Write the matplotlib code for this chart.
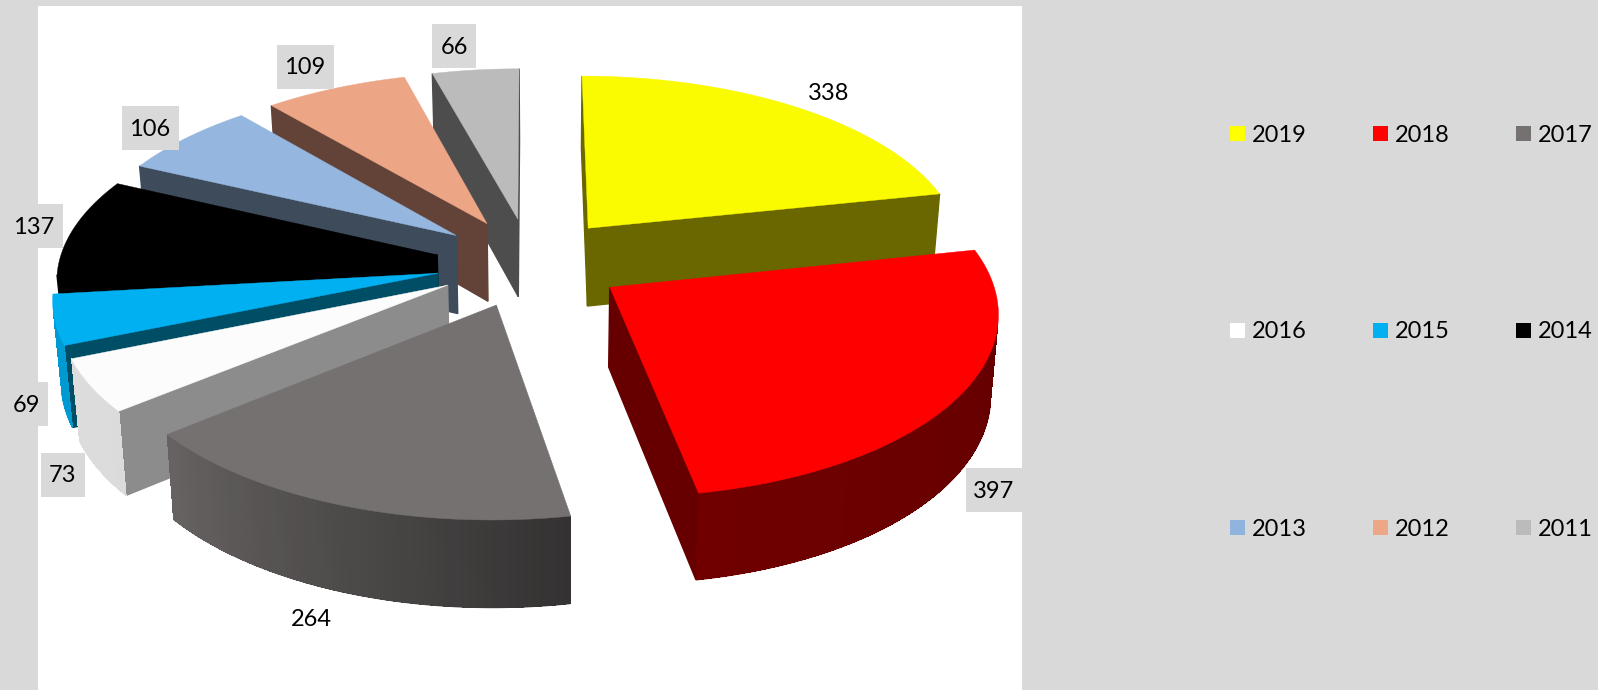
import numpy as np
from matplotlib import pyplot as plt
from matplotlib.patches import Rectangle

years = ['2019', '2018', '2017', '2016', '2015', '2014', '2013', '2012', '2011']
values = [338, 397, 264, 73, 69, 137, 106, 109, 66]

top_colors = ['#FAFA00', '#FF0000', '#767171', '#FCFCFC', '#00B0F0',
              '#000000', '#95B6DF', '#ECA686', '#BBBBBB']
face_colors = ['#6A6600', '#660000', '#3A3838', '#8C8C8C', '#004D66',
               '#000000', '#3D4B5A', '#634338', '#4D4D4D']
legend_colors = ['#FFFF00', '#FF0000', '#767171', '#FFFFFF', '#00B0F0',
                 '#000000', '#8FB4DE', '#EDA686', '#BBBBBB']

# centre of each data label, and whether it sits on a grey box
label_pos = [(829, 93), (994, 490), (311, 618), (63, 475), (26, 404),
             (34, 226), (150, 128), (305, 67), (454, 46)]
label_box = [False, True, False, True, True, True, True, True, True]

draw_order = [8, 7, 6, 5, 4, 3, 0, 1, 2]

BG = '#D9D9D9'
CX, CY = 530, 262
RX, RY = 378, 178
DEPTH = 79
PERSP = 0.12
DEPTH_PERSP = 0.08
SHRINK = 0.017  # the bottom of the pie pulls in towards x=545
EXPLODE = 0.25
FONT = 'Lato'
FONT_SIZE = 17


def project(x, y, z=0.0):
    w = 1 + PERSP*y
    sx = CX + RX*x/w
    sy = CY - RY*y/w + DEPTH*z/(1 + DEPTH_PERSP*y)
    return np.array([sx - SHRINK*z*(sx - 545), sy])


def side_shade(theta):
    # light falls off towards the right of the pie
    return np.interp(theta, [78, 170, 230, 265], [0.38, 0.44, 0.87, 0.88])


def shade_color(color, factor):
    rgb = np.array(plt.matplotlib.colors.to_rgb(color))
    return tuple(rgb*factor)


def draw_quad(ax, p, q, color, smooth=True):
    quad = np.array([project(*p), project(*q), project(*q, 1.0), project(*p, 1.0)])
    x, y = quad.T
    area = np.sum(x*np.roll(y, -1) - np.roll(x, -1)*y)
    # only the walls turned to the camera are drawn
    if area >= 0:
        return
    if smooth:
        ax.fill(x, y, facecolor=color, edgecolor=color, linewidth=1.0)
    else:
        # narrow strips: antialiasing would leave stripes, so only the bottom edge gets it
        ax.fill(x, y, facecolor=color, edgecolor='none', linewidth=0, antialiased=False)
        ax.plot(x[2:], y[2:], color=color, linewidth=0.8, solid_capstyle='butt')


def draw_slice(ax, start, end, top_color, face_color):
    mid = np.radians((start + end)/2)
    ox, oy = EXPLODE*np.sin(mid), EXPLODE*np.cos(mid)

    thetas = np.linspace(start, end, 60)
    rim = [(ox + np.sin(np.radians(t)), oy + np.cos(np.radians(t))) for t in thetas]
    apex = (ox, oy)

    draw_quad(ax, apex, rim[0], face_color)
    draw_quad(ax, rim[-1], apex, face_color)
    for i in range(len(rim) - 1):
        t = (thetas[i] + thetas[i+1])/2
        draw_quad(ax, rim[i], rim[i+1], shade_color(top_color, side_shade(t)), smooth=False)

    outline = np.array([project(*apex)] + [project(*p) for p in rim])
    ax.fill(outline[:, 0], outline[:, 1], facecolor=top_color, edgecolor=top_color, linewidth=0.3)


fig = plt.figure(figsize=(15.98, 6.9), dpi=100, facecolor=BG)
ax = fig.add_axes([0, 0, 1, 1])
ax.set_xlim(0, 1598)
ax.set_ylim(690, 0)
ax.axis('off')

ax.add_patch(Rectangle((38, 6), 984, 684, facecolor='white', edgecolor='none', zorder=0))

edges = 360*np.cumsum([0] + values)/np.sum(values)
for i in draw_order:
    draw_slice(ax, edges[i], edges[i+1], top_colors[i], face_colors[i])

for val, (x, y), boxed in zip(values, label_pos, label_box):
    text = str(val)
    if boxed:
        w = 13*len(text) + 18
        ax.add_patch(Rectangle((x - w/2, y - 22), w, 44, facecolor=BG, edgecolor='none', zorder=5))
    ax.text(x, y + 1, text, ha='center', va='center', fontsize=FONT_SIZE, family=FONT, color='black', zorder=6)

# legend, three columns by three rows
col_x = [1230, 1373, 1516]
row_y = [134, 331, 528]
for i, year in enumerate(years):
    x, y = col_x[i % 3], row_y[i//3]
    ax.add_patch(Rectangle((x, y - 8), 15, 15, facecolor=legend_colors[i], edgecolor='none'))
    ax.text(x + 22, y + 1, year, ha='left', va='center', fontsize=FONT_SIZE, family=FONT, color='black')

fig.savefig('out.png', dpi=100, facecolor=BG)
